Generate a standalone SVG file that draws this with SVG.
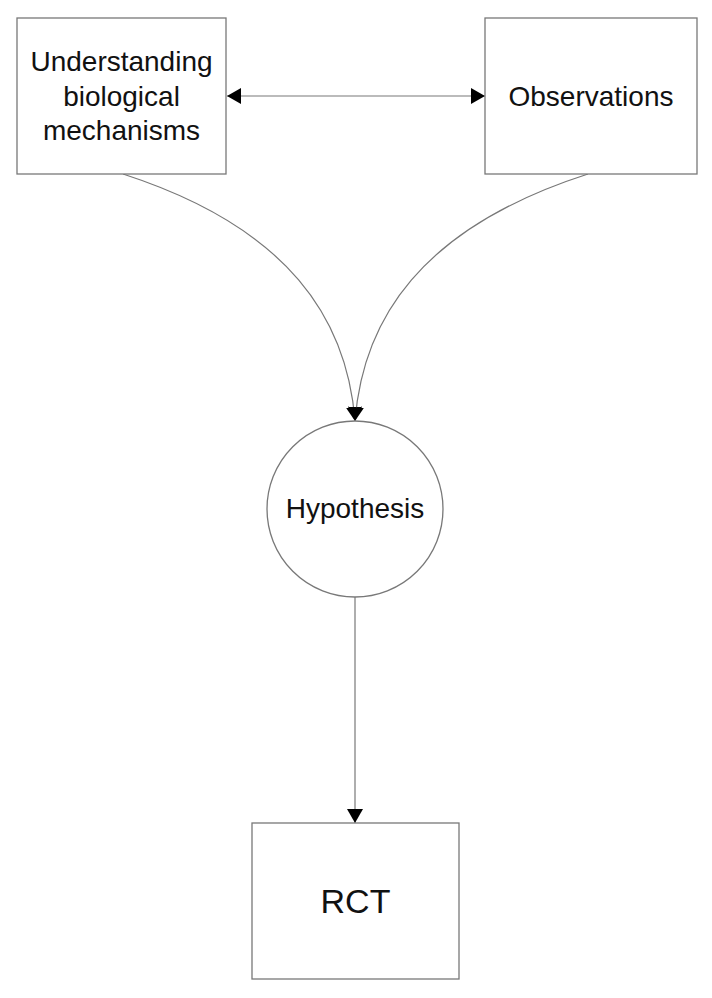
<svg xmlns="http://www.w3.org/2000/svg" width="712" height="998" viewBox="0 0 712 998">
<style>
.box{fill:#fff;stroke:#787878;stroke-width:1.3}
.lbl{font-family:"Liberation Sans",Arial,sans-serif;font-size:28px;fill:#111;text-anchor:middle}
.con{fill:none;stroke:#787878;stroke-width:1.2}
</style>
<defs>
<marker id="ah" viewBox="0 0 14 16" refX="14" refY="8" markerWidth="14" markerHeight="16" markerUnits="userSpaceOnUse" orient="auto-start-reverse">
<path d="M0,0 L14,8 L0,16 z" fill="#000"/>
</marker>
</defs>
<rect width="712" height="998" fill="#fff"/>
<g id="connectors">
<line class="con" x1="227" y1="96" x2="485" y2="96" marker-start="url(#ah)" marker-end="url(#ah)"/>
<path class="con" d="M123,174 C290,228 347,320 355,421" marker-end="url(#ah)"/>
<path class="con" d="M588,174 C420,228 363,320 355,421" marker-end="url(#ah)"/>
<line class="con" x1="355" y1="597" x2="355" y2="823" marker-end="url(#ah)"/>
</g>
<g id="understanding">
<rect class="box" x="17" y="18" width="209" height="156"/>
<text class="lbl" x="121.5" y="71">Understanding</text>
<text class="lbl" x="121.5" y="106">biological</text>
<text class="lbl" x="121.5" y="140">mechanisms</text>
</g>
<g id="observations">
<rect class="box" x="485" y="18" width="212" height="156"/>
<text class="lbl" x="591" y="106">Observations</text>
</g>
<g id="hypothesis">
<circle class="box" cx="355" cy="509" r="88"/>
<text class="lbl" x="355" y="518">Hypothesis</text>
</g>
<g id="rct">
<rect class="box" x="252" y="823" width="207" height="156"/>
<text class="lbl" x="355.5" y="913" style="font-size:34px">RCT</text>
</g>
</svg>
